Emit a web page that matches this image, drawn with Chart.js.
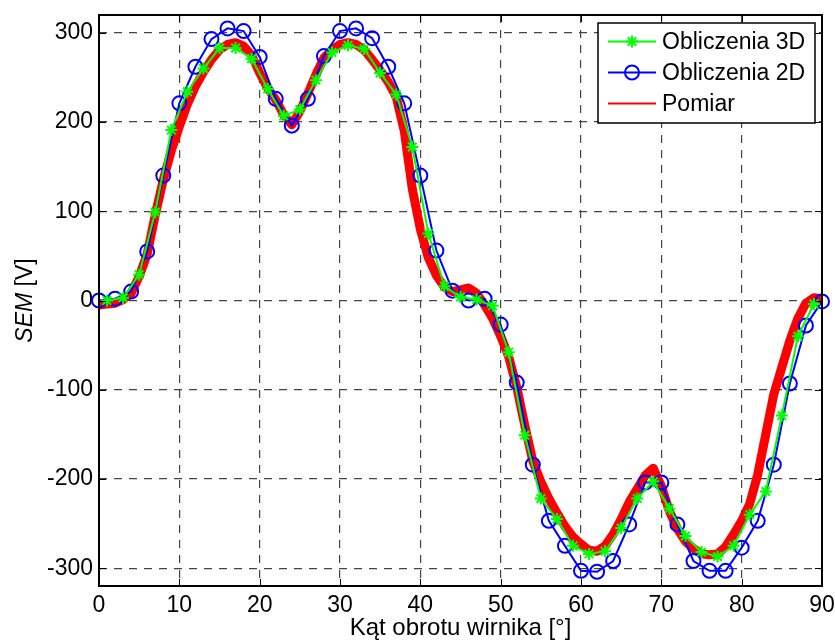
<!DOCTYPE html>
<html>
<head>
<meta charset="utf-8">
<script src="https://cdn.jsdelivr.net/npm/chart.js@4.4.0/dist/chart.umd.min.js"></script>
<style>
  html, body { margin: 0; padding: 0; background: #fff; }
  #wrap { width: 835px; height: 644px; }
</style>
</head>
<body>
<div id="wrap"><canvas id="c" width="835" height="644"></canvas></div>
<script>
// Back-EMF vs rotor angle: 3D and 2D FEM results and the measured waveform
const angles3D = [1, 3, 5, 7, 9, 11, 13, 15, 17, 19, 21, 23, 25, 27, 29, 31, 33, 35, 37, 39,
  41, 43, 45, 47, 49, 51, 53, 55, 57, 59, 61, 63, 65, 67, 69, 71, 73, 75, 77, 79,
  81, 83, 85, 87, 89];
const sem3D = [0, 3, 29, 99, 191, 234, 260, 283, 283, 271, 237, 207, 214, 247, 278, 286, 282, 255, 231, 172,
  75, 16, 4, 1, -6, -58, -151, -222, -245, -275, -284, -281, -255, -222, -203, -233, -264, -282, -287, -275,
  -240, -214, -129, -40, -4];

const angles2D = [0, 2, 4, 6, 8, 10, 12, 14, 16, 18, 20, 22, 24, 26, 28, 30, 32, 34, 36, 38,
  40, 42, 44, 46, 48, 50, 52, 54, 56, 58, 60, 62, 64, 66, 68, 70, 72, 74, 76, 78,
  80, 82, 84, 86, 88, 90];
const sem2D = [0, 2, 10, 55, 140, 221, 262, 293, 305, 302, 273, 226, 196, 226, 274, 302, 305, 294, 262, 221,
  140, 56, 11, 0, 2, -27, -92, -184, -247, -275, -303, -304, -292, -251, -204, -204, -251, -292, -303, -303,
  -277, -247, -184, -93, -28, -1];

const anglesMeas = [0, 1, 2, 3, 4, 5, 6, 7, 8, 9, 10, 11, 12, 13, 14, 15, 16, 17, 18, 19,
  20, 21, 22, 23, 24, 25, 26, 27, 28, 29, 30, 31, 32, 33, 34, 35, 36, 37, 38, 39,
  40, 41, 42, 43, 44, 45, 46, 47, 48, 49, 50, 51, 52, 53, 54, 55, 56, 57, 58, 59,
  60, 61, 62, 63, 64, 65, 66, 67, 68, 69, 70, 71, 72, 73, 74, 75, 76, 77, 78, 79,
  80, 81, 82, 83, 84, 85, 86, 87, 88, 89, 90];
const semMeas = [-5, -4, -3, 1, 8, 27, 52, 96, 135, 168, 195, 220, 240, 256, 270, 281, 287, 289, 285, 275,
  255, 238, 225, 208, 197, 212, 232, 253, 272, 281, 287, 289, 287, 281, 270, 258, 245, 228, 190, 125,
  80, 48, 28, 15, 10, 12, 14, 8, -5, -20, -40, -63, -97, -140, -180, -203, -222, -238, -253, -265,
  -273, -280, -281, -275, -262, -245, -226, -211, -196, -188, -208, -236, -256, -270, -278, -284, -285, -284, -276, -262,
  -247, -228, -195, -150, -105, -75, -45, -20, -3, 3, 2];

const xTicks = [0, 10, 20, 30, 40, 50, 60, 70, 80, 90];
const yTicks = [-300, -200, -100, 0, 100, 200, 300];

const FONT = '"Liberation Sans", Arial, Helvetica, sans-serif';
const toXY = (xs, ys) => xs.map((x, i) => ({ x: x, y: ys[i] }));

// axes box with inward tick marks on all four sides
const framePlugin = {
  id: 'frame',
  afterDatasetsDraw(chart) {
    const { ctx, chartArea: a, scales } = chart;
    ctx.save();
    ctx.strokeStyle = '#000';
    ctx.lineWidth = 1;
    const tl = 7;
    ctx.beginPath();
    xTicks.forEach(v => {
      const px = Math.round(scales.x.getPixelForValue(v)) + 0.5;
      ctx.moveTo(px, a.bottom); ctx.lineTo(px, a.bottom - tl);
      ctx.moveTo(px, a.top); ctx.lineTo(px, a.top + tl);
    });
    yTicks.forEach(v => {
      const py = Math.round(scales.y.getPixelForValue(v)) + 0.5;
      ctx.moveTo(a.left, py); ctx.lineTo(a.left + tl, py);
      ctx.moveTo(a.right, py); ctx.lineTo(a.right - tl, py);
    });
    ctx.stroke();
    ctx.lineWidth = 2;
    ctx.strokeRect(a.left, a.top, a.right - a.left, a.bottom - a.top);
    ctx.restore();
  }
};

// y-axis title with italic symbol and upright unit
const yTitlePlugin = {
  id: 'yTitle',
  afterDraw(chart) {
    const { ctx, chartArea: a } = chart;
    const cy = (a.top + a.bottom) / 2;
    ctx.save();
    ctx.translate(32, cy);
    ctx.rotate(-Math.PI / 2);
    ctx.fillStyle = '#000';
    ctx.textBaseline = 'alphabetic';
    ctx.textAlign = 'left';
    ctx.font = 'italic 23px ' + FONT;
    const w1 = ctx.measureText('SEM').width;
    ctx.font = '23px ' + FONT;
    const w2 = ctx.measureText(' [V]').width;
    const x0 = -(w1 + w2) / 2;
    ctx.font = 'italic 23px ' + FONT;
    ctx.fillText('SEM', x0, 0);
    ctx.font = '23px ' + FONT;
    ctx.fillText(' [V]', x0 + w1, 0);
    ctx.restore();
  }
};

// boxed legend in the upper right corner of the plot
const boxLegendPlugin = {
  id: 'boxLegend',
  afterDraw(chart) {
    const { ctx, chartArea: a } = chart;
    const ds = chart.data.datasets;
    const right = a.right - 7, top = a.top + 8;
    const w = 217, rowH = 31, h = 100;
    const left = right - w;
    ctx.save();
    ctx.fillStyle = '#fff';
    ctx.fillRect(left, top, w, h);
    ctx.strokeStyle = '#000';
    ctx.lineWidth = 1.5;
    ctx.strokeRect(left, top, w, h);
    ds.forEach((d, i) => {
      const y = top + 18.5 + i * rowH;
      const x1 = left + 10, x2 = left + 58, xm = (x1 + x2) / 2;
      ctx.strokeStyle = d.borderColor;
      ctx.lineWidth = 2;
      ctx.beginPath(); ctx.moveTo(x1, y); ctx.lineTo(x2, y); ctx.stroke();
      if (d.pointRadius > 0) {
        ctx.strokeStyle = d.pointBorderColor;
        ctx.lineWidth = d.pointBorderWidth;
        ctx.beginPath();
        if (d.pointStyle === 'circle') {
          ctx.arc(xm, y, d.pointRadius, 0, Math.PI * 2);
        } else {
          const r = d.pointRadius, q = r * Math.SQRT1_2;
          ctx.moveTo(xm, y - r); ctx.lineTo(xm, y + r);
          ctx.moveTo(xm - r, y); ctx.lineTo(xm + r, y);
          ctx.moveTo(xm - q, y - q); ctx.lineTo(xm + q, y + q);
          ctx.moveTo(xm - q, y + q); ctx.lineTo(xm + q, y - q);
        }
        ctx.stroke();
      }
      ctx.fillStyle = '#000';
      ctx.font = '23px ' + FONT;
      ctx.textBaseline = 'middle';
      ctx.textAlign = 'left';
      ctx.fillText(d.label, left + 64, y + 1);
    });
    ctx.restore();
  }
};

new Chart(document.getElementById('c'), {
  type: 'scatter',
  data: {
    datasets: [
      {
        label: 'Obliczenia 3D',
        data: toXY(angles3D, sem3D),
        showLine: true,
        borderColor: '#00ff00',
        borderWidth: 2,
        pointStyle: 'star',
        pointRadius: 6,
        pointBorderWidth: 2,
        pointBorderColor: '#00ff00',
        pointBackgroundColor: '#00ff00',
        tension: 0,
        clip: false
      },
      {
        label: 'Obliczenia 2D',
        data: toXY(angles2D, sem2D),
        showLine: true,
        borderColor: '#0000ff',
        borderWidth: 2,
        pointStyle: 'circle',
        pointRadius: 7,
        pointBorderWidth: 2,
        pointBorderColor: '#0000ff',
        pointBackgroundColor: 'rgba(0,0,0,0)',
        tension: 0,
        clip: false
      },
      {
        label: 'Pomiar',
        data: toXY(anglesMeas, semMeas),
        showLine: true,
        borderColor: '#ff0000',
        borderWidth: 9,
        borderJoinStyle: 'round',
        pointRadius: 0,
        pointBorderColor: '#ff0000',
        pointBackgroundColor: '#ff0000',
        pointBorderWidth: 0,
        tension: 0
      }
    ]
  },
  options: {
    responsive: false,
    animation: false,
    devicePixelRatio: 1,
    layout: { padding: { top: 15, right: 13, left: 0, bottom: 0 } },
    plugins: {
      legend: { display: false },
      tooltip: { enabled: false }
    },
    scales: {
      x: {
        type: 'linear',
        min: 0, max: 90,
        afterBuildTicks: s => { s.ticks = xTicks.map(v => ({ value: v })); },
        afterFit: s => { s.height = 58; s.paddingLeft = 0; s.paddingRight = 0; },
        ticks: { color: '#000', font: { family: FONT, size: 23 }, padding: 6, maxRotation: 0 },
        grid: { color: '#444', lineWidth: 1.2, drawTicks: false },
        border: { display: false, dash: [8, 7] },
        title: {
          display: true, text: 'Kąt obrotu wirnika [°]', color: '#000',
          font: { family: FONT, size: 24 }, padding: { top: 0, bottom: 1 }
        }
      },
      y: {
        type: 'linear',
        min: -320, max: 320,
        afterBuildTicks: s => { s.ticks = yTicks.map(v => ({ value: v })); },
        afterFit: s => { s.width = 99; s.paddingTop = 0; s.paddingBottom = 0; },
        ticks: { color: '#000', font: { family: FONT, size: 23 }, padding: 6 },
        grid: { color: '#444', lineWidth: 1.2, drawTicks: false },
        border: { display: false, dash: [8, 7] }
      }
    }
  },
  plugins: [framePlugin, yTitlePlugin, boxLegendPlugin]
});
</script>
</body>
</html>
